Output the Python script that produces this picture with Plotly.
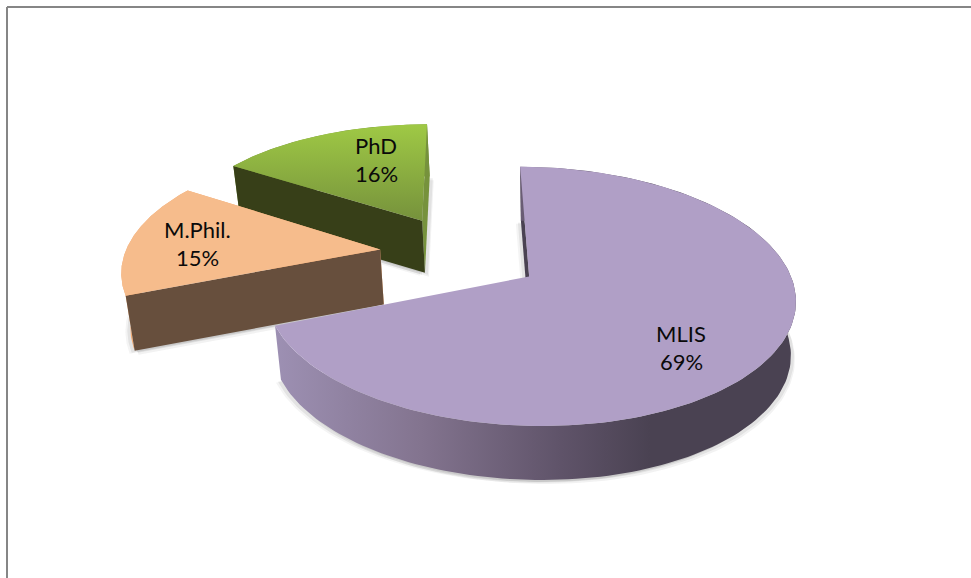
import numpy as np
import plotly.graph_objects as go

# Data
categories = ["MLIS", "M.Phil.", "PhD"]
values = [69, 15, 16]

# Styling / layout constants
PULL = [0.31, 0.32, 0.33]
NUDGE = [(0, 0), (-1, -2), (-1, -1)]
THICK = [54, 55, 52]
LABEL_POS = [(681, 347.5), (197, 243.5), (376, 159.5)]
TOP_FILL = ["#b09fc6", "#f6bc8c", None]
FACE_FILL = ["#4a4252", "#674f3d", "#373f18"]
RIM_FILL = [None, "#f2ab74", "#76923c"]
W, H = 971, 578
CX, CY, A, S, K, VX, Q = 462, 255, 255, 120, 0.15, 555, 0.021
LINE_GAP = 14


def project(i, X, Y, z=0.0):
    D = 1 + K * Y
    px = CX + A * X / D + NUDGE[i][0]
    py = CY - S * Y / D + THICK[i] * z + NUDGE[i][1]
    return px + (VX - px) * Q * z, py


def sector(i):
    fr = np.cumsum([0] + values) / sum(values) * 2 * np.pi
    a0, a1 = fr[i], fr[i + 1]
    mid = (a0 + a1) / 2
    ox, oy = PULL[i] * np.sin(mid), PULL[i] * np.cos(mid)
    th = np.linspace(a0, a1, 160)
    return ox, oy, ox + np.sin(th), oy + np.cos(th)


def poly(fig, xs, ys, color=None, gradient=None):
    kw = dict(fillgradient=gradient) if gradient else dict(fillcolor=color)
    fig.add_trace(go.Scatter(x=list(xs), y=list(ys), mode="lines", fill="toself",
                             line=dict(width=0), hoverinfo="skip", showlegend=False, **kw))


def face(fig, i, ox, oy, rx, ry, e, color):
    fx = np.array([ox, rx[e], rx[e], ox])
    fy = np.array([oy, ry[e], ry[e], oy])
    px, py = project(i, fx, fy, np.array([0, 0, 1, 1.0]))
    poly(fig, px, py, color)


fig = go.Figure()
rim_grad = dict(type="horizontal", colorscale=[
    [0, "#9d90b3"], [0.28, "#83748f"], [0.55, "#5f5369"], [0.72, "#4a4252"], [1, "#4a4252"]])
phd_grad = dict(type="vertical", colorscale=[[0, "#76923c"], [1, "#9fc945"]])

for i in [2, 1, 0]:
    ox, oy, rx, ry = sector(i)
    # soft shadow under the slice
    bx, by = project(i, np.r_[ox, rx], np.r_[oy, ry], 1.0)
    for dx, dy, al in [(-5, 3, 0.05), (4, 4, 0.06), (-3, 2, 0.08), (3, 2, 0.08)]:
        poly(fig, np.r_[bx + dx, bx[0] + dx], np.r_[by + dy, by[0] + dy], f"rgba(40,40,40,{al})")
    # far cut face, then the one nearer the viewer
    if i == 0:
        face(fig, i, ox, oy, rx, ry, 0, FACE_FILL[0])
    else:
        face(fig, i, ox, oy, rx, ry, -1, RIM_FILL[i])
    # outer rim
    tx, ty = project(i, rx, ry, 0.0)
    ux, uy = project(i, rx, ry, 1.0)
    xs, ys = np.r_[tx, ux[::-1]], np.r_[ty, uy[::-1]]
    if i == 0:
        poly(fig, xs, ys, gradient=rim_grad)
    else:
        poly(fig, xs, ys, RIM_FILL[i])
        face(fig, i, ox, oy, rx, ry, 0, FACE_FILL[i])
    # top surface
    px, py = project(i, np.r_[ox, rx], np.r_[oy, ry], 0.0)
    if i == 2:
        poly(fig, px, py, gradient=phd_grad)
    else:
        poly(fig, px, py, TOP_FILL[i])

font = dict(family="Lato, Open Sans, sans-serif", size=22, color="#0a0a0a")
annotations = []
for c, v, (x, y) in zip(categories, values, LABEL_POS):
    annotations.append(dict(x=x, y=y - LINE_GAP, xref="x", yref="y", showarrow=False, text=c, font=font))
    annotations.append(dict(x=x, y=y + LINE_GAP, xref="x", yref="y", showarrow=False, text=f"{v}%", font=font))

frame = dict(color="#868686", width=2)
fig.update_layout(
    width=W, height=H, margin=dict(l=0, r=0, t=0, b=0),
    paper_bgcolor="white", plot_bgcolor="white", showlegend=False,
    xaxis=dict(range=[0, W], visible=False, fixedrange=True),
    yaxis=dict(range=[H, 0], visible=False, fixedrange=True),
    annotations=annotations,
    shapes=[
        dict(type="line", xref="x", yref="y", x0=7, x1=W, y0=7, y1=7, line=frame),
        dict(type="line", xref="x", yref="y", x0=7, x1=7, y0=7, y1=H, line=frame),
    ],
)
fig.write_html("out.html", post_script="document.body.style.margin='0';", config={"displayModeBar": False})
